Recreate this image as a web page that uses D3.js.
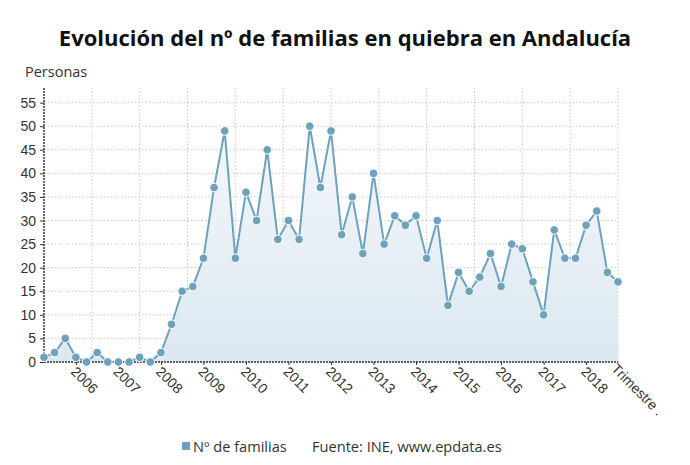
<!DOCTYPE html>
<html>
<head>
<meta charset="utf-8">
<script src="https://cdn.jsdelivr.net/npm/d3@7"></script>
<style>
  body { margin: 0; background: #fff; }
  svg { font-family: 'Open Sans', sans-serif; }
  .grid line { stroke: #c8c8c8; stroke-dasharray: 1.5,2; }
  .axis text { fill: #333; font-size: 14px; }
</style>
</head>
<body>
<svg width="690" height="465"></svg>
<script>
// quarterly series, starting 2005 T2
const startYear = 2005
const startQuarter = 2
const familias = [1, 2, 5, 1, 0, 2, 0, 0, 0, 1, 0, 2, 8, 15, 16, 22, 37, 49, 22, 36,
                  30, 45, 26, 30, 26, 50, 37, 49, 27, 35, 23, 40, 25, 31, 29, 31, 22, 30, 12, 19,
                  15, 18, 23, 16, 25, 24, 17, 10, 28, 22, 22, 29, 32, 19, 17]
const yTicks = [0, 5, 10, 15, 20, 25, 30, 35, 40, 45, 50, 55]
const yearLabels = ['2006', '2007', '2008', '2009', '2010', '2011', '2012',
                    '2013', '2014', '2015', '2016', '2017', '2018']

const categories = familias.map((d, i) => {
  const q = startQuarter - 1 + i
  return (startYear + Math.floor(q / 4)) + ' T' + (q % 4 + 1)
})

const margin = {left: 44, right: 72, top: 88, bottom: 103}
const width = 690, height = 465
const x0 = margin.left, x1 = width - margin.right
const yBottom = height - margin.bottom

const xScale = d3.scalePoint().domain(categories).range([x0, x1])
const xLin = d3.scaleLinear().domain([0, categories.length - 1]).range([x0, x1])
const yScale = d3.scaleLinear().domain([0, 58.1]).range([yBottom, margin.top])

const svg = d3.select('svg')

const lineColor = '#6ea2bc'

const defs = svg.append('defs')
const grad = defs.append('linearGradient')
  .attr('id', 'fillGrad').attr('x1', 0).attr('y1', 0).attr('x2', 0).attr('y2', 1)
grad.append('stop').attr('offset', '0%').attr('stop-color', '#f3f7fa')
grad.append('stop').attr('offset', '100%').attr('stop-color', '#dce8f1')

// title
svg.append('text')
  .attr('x', 345).attr('y', 46)
  .attr('text-anchor', 'middle')
  .attr('font-size', 22).attr('font-weight', 'bold').attr('fill', '#111')
  .text('Evolución del nº de familias en quiebra en Andalucía')

svg.append('text')
  .attr('x', 25).attr('y', 77)
  .attr('font-size', 14.5).attr('fill', '#333')
  .text('Personas')

// grid
const grid = svg.append('g').attr('class', 'grid')
grid.selectAll('.h')
  .data(yTicks)
  .enter().append('line')
  .attr('x1', x0).attr('x2', x1)
  .attr('y1', d => yScale(d)).attr('y2', d => yScale(d))
grid.selectAll('.v')
  .data(d3.range(1, 13))
  .enter().append('line')
  .attr('x1', d => xLin(d * 4.5)).attr('x2', d => xLin(d * 4.5))
  .attr('y1', margin.top).attr('y2', yBottom)

// area + line
const area = d3.area()
  .x(d => xScale(d.cat))
  .y0(yBottom)
  .y1(d => yScale(d.value))
const line = d3.line()
  .x(d => xScale(d.cat))
  .y(d => yScale(d.value))
const points = familias.map((v, i) => ({cat: categories[i], value: v}))

svg.append('path').datum(points)
  .attr('d', area).attr('fill', 'url(#fillGrad)')
svg.append('path').datum(points)
  .attr('d', line).attr('fill', 'none')
  .attr('stroke', lineColor).attr('stroke-width', 2)

// y axis
const yAxis = d3.axisLeft(yScale).tickValues(yTicks).tickSize(4).tickPadding(4)
const yAxisG = svg.append('g').attr('class', 'axis')
  .attr('transform', `translate(${x0},0)`)
  .call(yAxis)
yAxisG.select('.domain').remove()
yAxisG.selectAll('.tick line').attr('stroke', '#333')
yAxisG.append('line')
  .attr('x1', 0).attr('x2', 0).attr('y1', margin.top).attr('y2', yBottom)
  .attr('stroke', '#333').attr('stroke-width', 1.5).attr('stroke-dasharray', '2,1')

// x axis
const yearCats = yearLabels.map(y => y + ' T1')
const xAxis = d3.axisBottom(xScale).tickValues(yearCats).tickSize(3)
  .tickFormat(d => d.slice(0, 4))
const xAxisG = svg.append('g').attr('class', 'axis')
  .attr('transform', `translate(0,${yBottom})`)
  .call(xAxis)
xAxisG.select('.domain').remove()
xAxisG.selectAll('.tick line').attr('stroke', '#333')
xAxisG.selectAll('.tick text')
  .attr('text-anchor', 'start')
  .attr('transform', 'translate(-3,7) rotate(45)')
  .attr('x', 0).attr('y', 0).attr('dy', '0.35em')
xAxisG.append('line')
  .attr('x1', x0).attr('x2', x1).attr('y1', 0).attr('y2', 0)
  .attr('stroke', '#333').attr('stroke-width', 1.5).attr('stroke-dasharray', '2,1')
xAxisG.append('text')
  .attr('text-anchor', 'start')
  .attr('transform', `translate(${x1 - 4},4) rotate(45)`)
  .attr('dy', '0.35em')
  .text('Trimestre .')

// markers
svg.selectAll('.dot')
  .data(points)
  .enter().append('circle')
  .attr('cx', d => xScale(d.cat))
  .attr('cy', d => yScale(d.value))
  .attr('r', 4.3)
  .attr('fill', lineColor)
  .attr('stroke', '#fff').attr('stroke-width', 1)

// legend
const legend = svg.append('g').attr('font-size', 14.6).attr('fill', '#333')
legend.append('rect')
  .attr('x', 182).attr('y', 442).attr('width', 8).attr('height', 8)
  .attr('fill', lineColor)
legend.append('text').attr('x', 193).attr('y', 452).text('Nº de familias')
legend.append('text').attr('x', 312).attr('y', 452).text('Fuente: INE, www.epdata.es')
</script>
</body>
</html>
